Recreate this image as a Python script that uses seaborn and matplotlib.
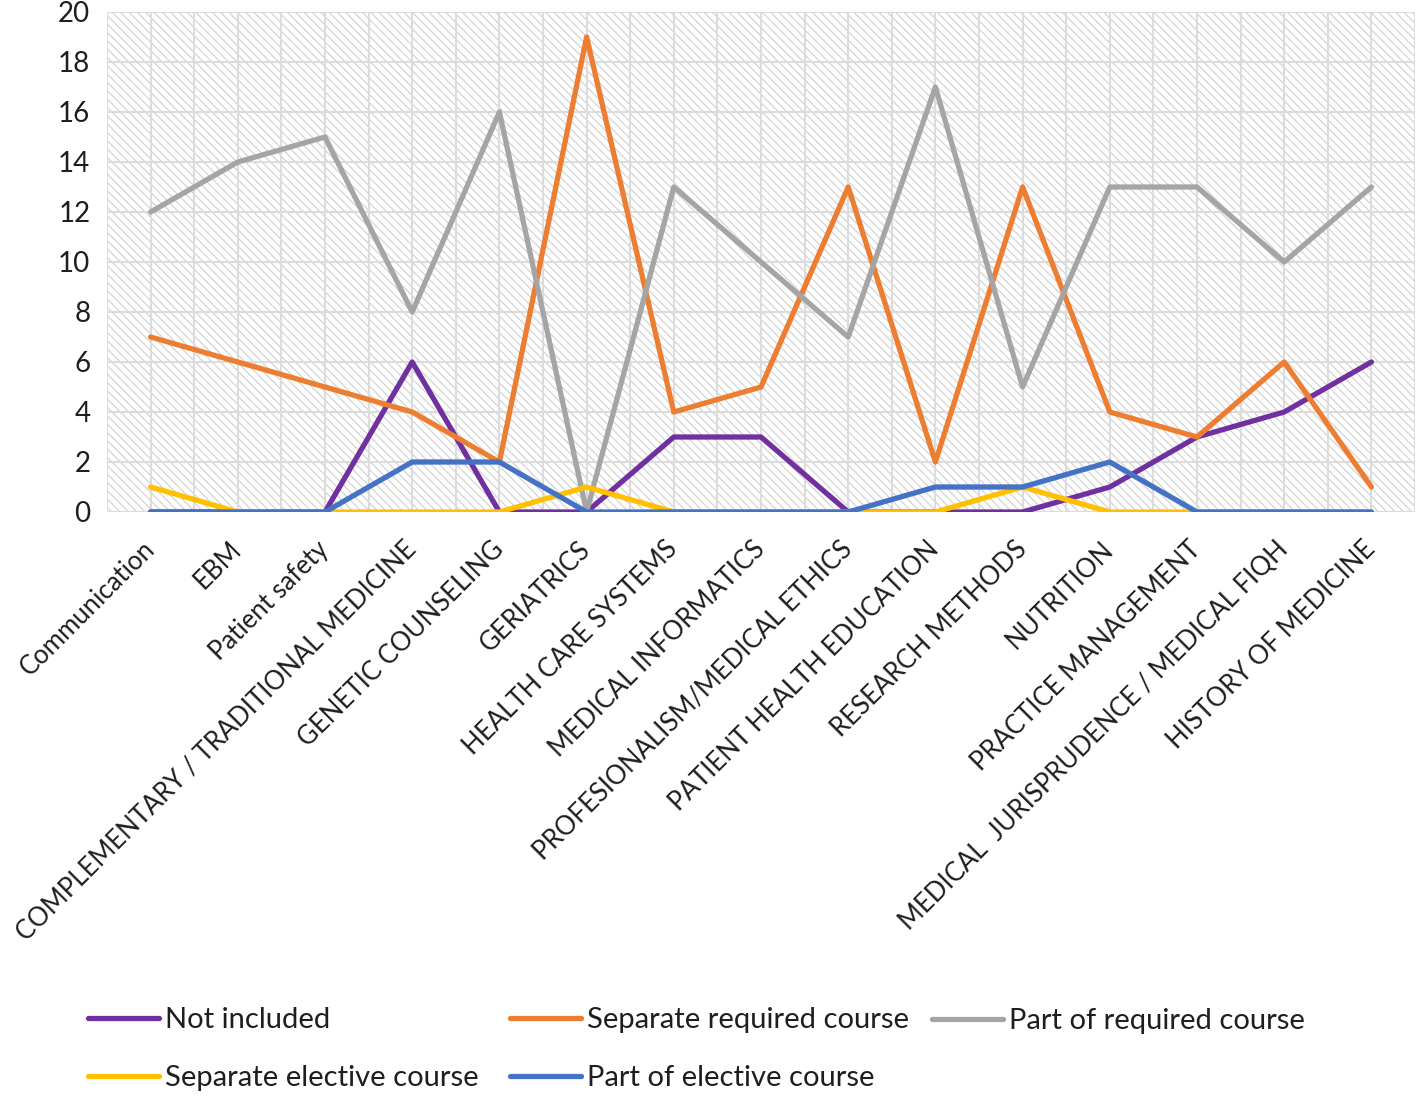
import pandas as pd
import matplotlib.pyplot as plt
import seaborn as sns
from matplotlib.patches import Rectangle

# Categories along the x axis
topics = ['Communication', 'EBM', 'Patient safety',
          'COMPLEMENTARY / TRADITIONAL MEDICINE', 'GENETIC COUNSELING',
          'GERIATRICS', 'HEALTH CARE SYSTEMS', 'MEDICAL INFORMATICS',
          'PROFESIONALISM/MEDICAL ETHICS', 'PATIENT HEALTH EDUCATION',
          'RESEARCH METHODS', 'NUTRITION', 'PRACTICE MANAGEMENT',
          'MEDICAL  JURISPRUDENCE / MEDICAL FIQH', 'HISTORY OF MEDICINE']

# Counts per series
not_included = [0, 0, 0, 6, 0, 0, 3, 3, 0, 0, 0, 1, 3, 4, 6]
separate_required = [7, 6, 5, 4, 2, 19, 4, 5, 13, 2, 13, 4, 3, 6, 1]
part_required = [12, 14, 15, 8, 16, 0, 13, 10, 7, 17, 5, 13, 13, 10, 13]
separate_elective = [1, 0, 0, 0, 0, 1, 0, 0, 0, 0, 1, 0, 0, 0, 0]
part_elective = [0, 0, 0, 2, 2, 0, 0, 0, 0, 1, 1, 2, 0, 0, 0]

series_names = ['Not included', 'Separate required course', 'Part of required course',
                'Separate elective course', 'Part of elective course']
series_values = [not_included, separate_required, part_required,
                 separate_elective, part_elective]
colors = ['#7030A0', '#ED7D31', '#A5A5A5', '#FFC000', '#4472C4']

# Long-form table for seaborn
df = pd.concat([pd.DataFrame({'Topic': topics, 'Count': vals, 'Series': name})
                for name, vals in zip(series_names, series_values)],
               ignore_index=True)

sns.set_style('white')
plt.rcParams['font.family'] = ['Lato', 'DejaVu Sans']
plt.rcParams['hatch.linewidth'] = 0.9
text_color = '#1e1e1e'

fig = plt.figure(figsize=(14.16, 10.96), dpi=100)
ax = fig.add_axes([107 / 1416, 1 - 512 / 1096, 1308 / 1416, 500 / 1096])

# Hatched plot area background
ax.add_patch(Rectangle((0, 0), 1, 1, transform=ax.transAxes, facecolor='white',
                       edgecolor='#d4d4d4', linewidth=0, hatch='\\\\\\\\', zorder=0))

sns.lineplot(data=df, x='Topic', y='Count', hue='Series', hue_order=series_names,
             palette=colors, linewidth=3.8, sort=False, ax=ax, zorder=3)

ax.set_xlim(-0.5, len(topics) - 0.5)
ax.set_ylim(0, 20)
ax.set_yticks(range(0, 21, 2))
ax.set_xticks(range(len(topics)))
ax.set_xticks([i - 0.5 for i in range(len(topics) + 1)], minor=True)
ax.grid(True, which='both', color='#dcdcdc', linewidth=1.5, zorder=1)
ax.set_axisbelow(True)
for s in ax.spines.values():
    s.set_visible(False)

ax.set_xticklabels(topics, rotation=45, ha='right', va='center',
                   rotation_mode='anchor', fontsize=18.5, color=text_color)
ax.tick_params(axis='x', which='both', length=0, pad=24)
ax.tick_params(axis='y', length=0, pad=12, labelsize=20, labelcolor=text_color)
ax.set_xlabel('')
ax.set_ylabel('')

# Legend: three columns placed like the reference
handles, labels = ax.get_legend_handles_labels()
ax.get_legend().remove()
columns = [([0, 3], 88, 1049), ([1, 4], 510, 1049), ([2], 932, 1021)]
for idx, x0, yc in columns:
    leg = fig.legend([handles[i] for i in idx], [labels[i] for i in idx],
                     loc='center left', bbox_to_anchor=(x0 / 1416, 1 - yc / 1096),
                     frameon=False, fontsize=21, borderpad=0, borderaxespad=0,
                     handlelength=2.45, handletextpad=0.2, labelspacing=1.1,
                     labelcolor=text_color)

plt.savefig('out.png', dpi=100)
